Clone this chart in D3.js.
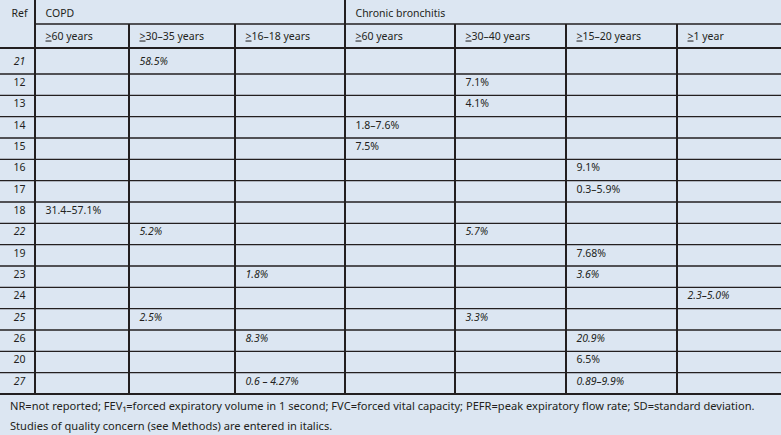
<!DOCTYPE html>
<html>
<head>
<meta charset="utf-8">
<script src="https://cdn.jsdelivr.net/npm/d3@7/dist/d3.min.js"></script>
<style>
  body { margin: 0; background: #dce6f2; }
  text { font-family: "Noto Sans", "Open Sans", sans-serif; font-size: 10.5px; fill: #231f20; }
  text.note { font-size: 11.1px; }
</style>
</head>
<body>
<div id="table"></div>
<script>
var refs = ["21", "12", "13", "14", "15", "16", "17", "18", "22", "19", "23", "24", "25", "26", "20", "27"];
var groups = ["COPD", "Chronic bronchitis"];
var groupSpans = [3, 4];
var durations = ["60 years", "30\u201335 years", "16\u201318 years", "60 years", "30\u201340 years", "15\u201320 years", "1 year"];

var copd60 = ["", "", "", "", "", "", "", "31.4\u201357.1%", "", "", "", "", "", "", "", ""];
var copd30 = ["58.5%", "", "", "", "", "", "", "", "5.2%", "", "", "", "2.5%", "", "", ""];
var copd16 = ["", "", "", "", "", "", "", "", "", "", "1.8%", "", "", "8.3%", "", "0.6 \u2013 4.27%"];
var cb60   = ["", "", "", "1.8\u20137.6%", "7.5%", "", "", "", "", "", "", "", "", "", "", ""];
var cb30   = ["", "7.1%", "4.1%", "", "", "", "", "", "5.7%", "", "", "", "3.3%", "", "", ""];
var cb15   = ["", "", "", "", "", "9.1%", "0.3\u20135.9%", "", "", "7.68%", "3.6%", "", "", "20.9%", "6.5%", "0.89\u20139.9%"];
var cb1    = ["", "", "", "", "", "", "", "", "", "", "", "2.3\u20135.0%", "", "", "", ""];

// studies of quality concern (entered in italics)
var concernRefs = ["21", "22", "25", "27"];
var concernValues = ["21:1", "22:1", "22:4", "23:2", "23:5", "24:6", "25:1", "25:4", "26:2", "26:5", "27:2", "27:5"];

var footnotes = [
  "NR=not reported; FEV\u2081=forced expiratory volume in 1 second; FVC=forced vital capacity; PEFR=peak expiratory flow rate; SD=standard deviation.",
  "Studies of quality concern (see Methods) are entered in italics."
];

var columns = [copd60, copd30, copd16, cb60, cb30, cb15, cb1];

var width = 781, height = 435;
var ink = "#231f20";

var svg = d3.select("#table").append("svg")
  .attr("width", width)
  .attr("height", height);

svg.append("rect").attr("width", width).attr("height", height).attr("fill", "#dce6f2");

// column edges: 0 = Ref column, 1..7 data columns
var x = d3.scaleLinear()
  .domain([0, 1, 2, 3, 4, 5, 6, 7, 8])
  .range([0, 35, 129, 235, 345, 455, 566, 677, 781]);

// row edges: header at 0-24-48, first body row a little taller
var y = d3.scaleLinear()
  .domain([0, 1, refs.length])
  .range([48, 74, 394]);

// horizontal rules
svg.append("line")
  .attr("x1", x(1)).attr("x2", width)
  .attr("y1", 24).attr("y2", 24)
  .attr("stroke", ink).attr("stroke-width", 1.6);

svg.selectAll("line.row")
  .data(d3.range(refs.length + 1))
  .enter()
  .append("line")
  .attr("class", "row")
  .attr("x1", 0).attr("x2", width)
  .attr("y1", function(d) { return y(d); })
  .attr("y2", function(d) { return y(d); })
  .attr("stroke", ink)
  .attr("stroke-width", function(d) { return (d === 0 || d === refs.length) ? 2 : 1.3; });

// vertical rules
svg.selectAll("line.col")
  .data(d3.range(1, 8))
  .enter()
  .append("line")
  .attr("class", "col")
  .attr("x1", function(d) { return x(d); })
  .attr("x2", function(d) { return x(d); })
  .attr("y1", function(d) { return (d === 1 || d === 4) ? 0 : 24; })
  .attr("y2", y(refs.length))
  .attr("stroke", ink)
  .attr("stroke-width", 2);

// header
svg.append("text").attr("x", 19.5).attr("y", 17).attr("text-anchor", "middle").text("Ref");

var groupStart = [1, 1 + groupSpans[0]];
svg.selectAll("text.group")
  .data(groups)
  .enter()
  .append("text")
  .attr("class", "group")
  .attr("x", function(d, i) { return x(groupStart[i]) + 10.5; })
  .attr("y", 17)
  .text(function(d) { return d; });

var dur = svg.selectAll("text.dur")
  .data(durations)
  .enter()
  .append("text")
  .attr("class", "dur")
  .attr("x", function(d, i) { return x(i + 1) + 10.5; })
  .attr("y", 39.5);
dur.append("tspan").style("text-decoration", "underline").text(">");
dur.append("tspan").text(function(d) { return d; });

// ref column
svg.selectAll("text.ref")
  .data(refs)
  .enter()
  .append("text")
  .attr("class", "ref")
  .attr("x", 19.5)
  .attr("y", function(d, i) { return y(i + 1) - 9.5; })
  .attr("text-anchor", "middle")
  .style("font-style", function(d) { return concernRefs.indexOf(d) >= 0 ? "italic" : "normal"; })
  .text(function(d) { return d; });

// body cells
columns.forEach(function(col, c) {
  var cells = col.map(function(v, i) { return { value: v, row: i }; })
    .filter(function(d) { return d.value !== ""; });
  svg.selectAll("text.c" + c)
    .data(cells)
    .enter()
    .append("text")
    .attr("class", "c" + c)
    .attr("x", x(c + 1) + 10.5)
    .attr("y", function(d) { return y(d.row + 1) - 9.5; })
    .style("font-style", function(d) {
      return concernValues.indexOf(refs[d.row] + ":" + c) >= 0 ? "italic" : "normal";
    })
    .text(function(d) { return d.value; });
});

// footnotes
svg.selectAll("text.note")
  .data(footnotes)
  .enter()
  .append("text")
  .attr("class", "note")
  .attr("x", 10)
  .attr("y", function(d, i) { return 410 + i * 19.5; })
  .text(function(d) { return d; });
</script>
</body>
</html>
